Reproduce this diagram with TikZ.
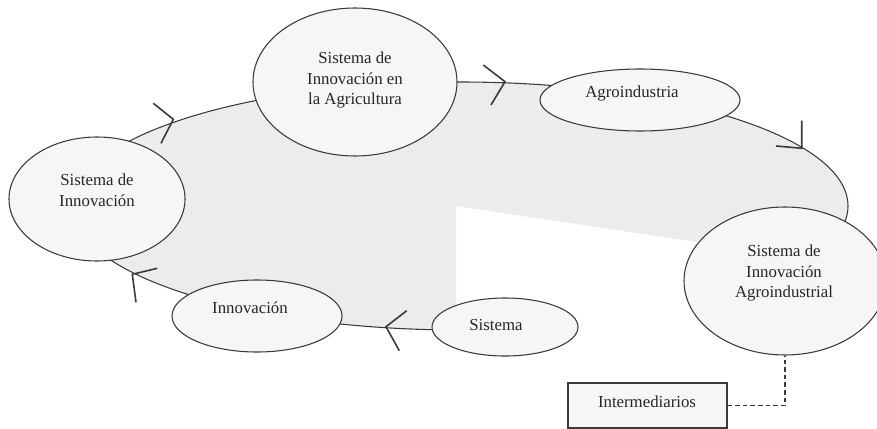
\documentclass[tikz,border=0pt]{standalone}
\usepackage{fontspec}
\setmainfont{Liberation Serif}
\usetikzlibrary{shapes.geometric}
\definecolor{linec}{HTML}{3A3A3A}
\definecolor{biggray}{HTML}{ECECEC}
\definecolor{bubfill}{HTML}{F6F6F6}
\newdimen\pxu \pxu=0.75pt
\begin{document}
\begin{tikzpicture}[x=0.75pt,y=-0.75pt,
  bub/.style={ellipse, draw=linec, fill=bubfill, line width=0.8pt, inner sep=0pt},
  lbl/.style={font=\fontsize{12.6}{15.4}\selectfont, align=center, inner sep=0pt, text=black!85},
  chev/.style={draw=linec, line width=1.2pt, line join=miter},
  box/.style={rectangle, draw=linec, fill=bubfill, line width=0.8pt, inner sep=0pt},
  conn/.style={draw=linec, line width=0.8pt, dash pattern=on 3.5pt off 2.2pt}
]
\useasboundingbox (0,0) rectangle (877,428);
\clip (0,0) rectangle (877,428);
% big gray ellipse with white cut-out
\begin{scope}
  \clip (0,0) -- (877,0) -- (877,269) -- (456,206) -- (456,440) -- (0,440) -- cycle;
  \draw[draw=linec, fill=biggray, line width=0.8pt] (460,206) ellipse [x radius=388, y radius=124];
\end{scope}
% chevrons on the cycle
\draw[chev] (153.3,103.3) -- (173.3,119.3) -- (161,143.3);
\draw[chev] (483.3,65) -- (505,81.7) -- (491,105);
\draw[chev] (801.7,120.7) -- (801.7,148.3) -- (776,146);
\draw[chev] (157.3,268.3) -- (132.3,274.3) -- (136,302.3);
\draw[chev] (406.7,310.7) -- (386,326.7) -- (399.3,350.7);
% bubbles
\node[bub, minimum width=176\pxu, minimum height=124\pxu] (sdi) at (97,199) {};
\node[bub, minimum width=204\pxu, minimum height=148\pxu] (sia) at (355,82) {};
\node[bub, minimum width=200\pxu, minimum height=62\pxu] (agro) at (640,100) {};
\node[bub, minimum width=202\pxu, minimum height=148\pxu] (sag) at (785,281) {};
\node[bub, minimum width=170\pxu, minimum height=72\pxu] (inno) at (257,316) {};
\node[bub, minimum width=146\pxu, minimum height=58\pxu] (sis) at (505,327) {};
% labels
\node[lbl] (tsdi) at (97,190) {Sistema de\\Innovación};
\node[lbl] (tsia) at (355,80) {Sistema de\\Innovación en\\la Agricultura};
\node[lbl] (tagro) at (632,93) {Agroindustria};
\node[lbl] (tsag) at (784,273) {Sistema de\\Innovación\\Agroindustrial};
\node[lbl] (tinno) at (250,308) {Innovación};
\node[lbl] (tsis) at (496,325) {Sistema};
% intermediaries
\node[box, minimum width=159\pxu, minimum height=45\pxu] (inter) at (647.5,405.5) {};
\node[lbl] (tinter) at (647,402) {Intermediarios};
\draw[conn] (inter.east) -| (sag.south);
\end{tikzpicture}
\end{document}
